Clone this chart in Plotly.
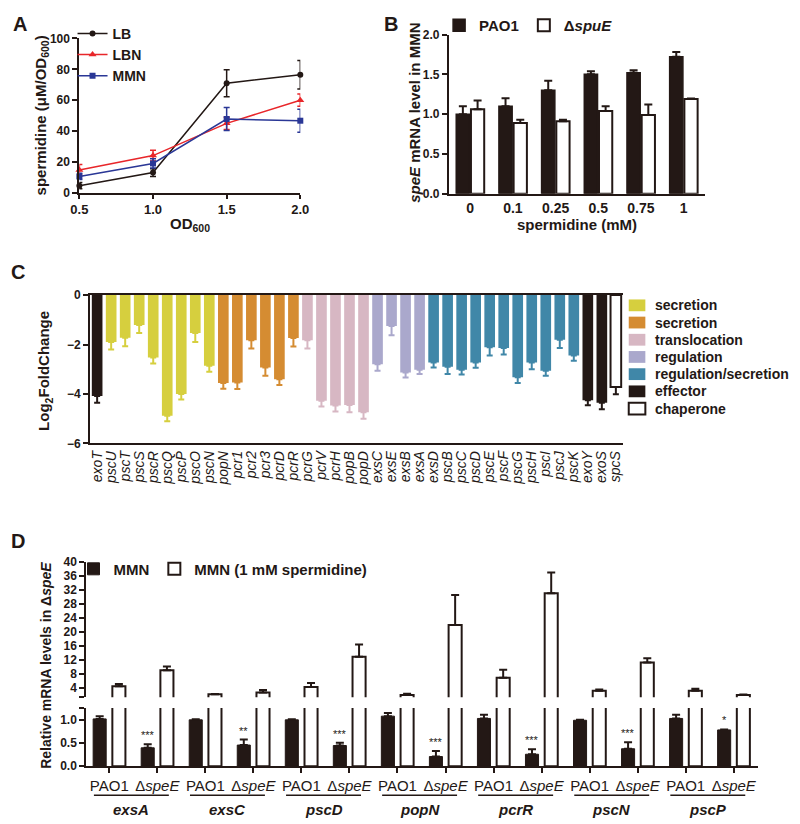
import plotly.graph_objects as go

W, H = 800, 824
FONT = "Arial, 'Liberation Sans', sans-serif"
BLACK = "#231815"

# ---------------- Panel A data ----------------
od600 = [0.5, 1.0, 1.5, 2.0]
lb_vals = [4.6, 13.1, 71.0, 76.5]
lb_err = [2.0, 2.5, 8.7, 9.2]
lbn_vals = [14.8, 24.1, 45.0, 60.0]
lbn_err = [3.5, 3.5, 4.0, 4.0]
mmn_vals = [10.6, 19.0, 47.8, 46.7]
mmn_err = [2.0, 3.0, 7.5, 7.5]

# ---------------- Panel B data ----------------
spd_conc = ["0", "0.1", "0.25", "0.5", "0.75", "1"]
pao1_b = [1.00, 1.10, 1.30, 1.50, 1.52, 1.72]
pao1_b_err = [0.10, 0.10, 0.12, 0.04, 0.03, 0.06]
spue_b = [1.06, 0.89, 0.91, 1.04, 0.99, 1.19]
spue_b_err = [0.11, 0.04, 0.02, 0.06, 0.13, 0.005]

# ---------------- Panel C data ----------------
genes_c = ["exoT", "pscU", "pscT", "pscS", "pscR", "pscQ", "pscP", "pscO", "pscN",
           "popN", "pcr1", "pcr2", "pcr3", "pcrD", "pcrR",
           "pcrG", "pcrV", "pcrH", "popB", "popD",
           "exsC", "exsE", "exsB", "exsA",
           "exsD", "pscB", "pscC", "pscD", "pscE", "pscF", "pscG", "pscH", "pscI", "pscJ", "pscK",
           "exoY", "exoS", "spcS"]
log2fc = [-4.08, -1.90, -1.73, -1.21, -2.53, -4.88, -4.00, -1.54, -2.86,
          -3.56, -3.54, -1.83, -2.93, -3.40, -1.74,
          -1.83, -4.27, -4.47, -4.45, -4.74,
          -2.80, -1.25, -3.13, -3.02,
          -2.73, -2.90, -3.02, -2.73, -2.11, -2.14, -3.32, -2.73, -3.06, -1.81, -2.44,
          -4.25, -4.35, -3.72]
log2fc_err = [0.27, 0.30, 0.34, 0.33, 0.24, 0.22, 0.22, 0.36, 0.24,
              0.23, 0.26, 0.33, 0.33, 0.24, 0.34,
              0.33, 0.24, 0.24, 0.29, 0.26,
              0.26, 0.38, 0.20, 0.17,
              0.20, 0.29, 0.19, 0.21, 0.33, 0.26, 0.24, 0.27, 0.20, 0.33, 0.22,
              0.21, 0.27, 0.29]
gene_class = [5, 0, 0, 0, 0, 0, 0, 0, 0,
              1, 1, 1, 1, 1, 1,
              2, 2, 2, 2, 2,
              3, 3, 3, 3,
              4, 4, 4, 4, 4, 4, 4, 4, 4, 4, 4,
              5, 5, 6]
class_names = ["secretion", "secretion", "translocation", "regulation",
               "regulation/secretion", "effector", "chaperone"]
class_colors = ["#D6CF3E", "#D58C32", "#D7B7C3", "#AAA8CC", "#4087A8", BLACK, "#FFFFFF"]

# ---------------- Panel D data ----------------
genes_d = ["exsA", "exsC", "pscD", "popN", "pcrR", "pscN", "pscP"]
strains_d = ["PAO1", "Δ<i>speE</i>"]
pao1_mmn = [1.03, 1.01, 1.01, 1.09, 1.04, 1.00, 1.04]
pao1_mmn_err = [0.06, 0.01, 0.01, 0.07, 0.08, 0.01, 0.08]
pao1_spd = [4.47, 2.2, 4.3, 2.0, 6.9, 3.16, 3.16]
pao1_spd_err = [0.65, 0.1, 1.1, 0.35, 2.3, 0.4, 0.6]
spee_mmn = [0.40, 0.46, 0.45, 0.21, 0.26, 0.38, 0.79]
spee_mmn_err = [0.08, 0.12, 0.06, 0.12, 0.11, 0.14, 0.01]
spee_spd = [9.06, 2.7, 12.9, 22.0, 31.1, 11.3, 2.0]
spee_spd_err = [1.1, 0.7, 3.5, 8.6, 5.9, 1.2, 0.1]
signif = ["***", "**", "***", "***", "***", "***", "*"]

# layout helpers (pixel -> paper)
def px(x):
    return x / W

def py(y):
    return 1 - y / H

fig = go.Figure()

# ---------------- Panel A ----------------
for name, vals, err, col, sym, msize in [
    ("LB", lb_vals, lb_err, BLACK, "circle", 6),
    ("LBN", lbn_vals, lbn_err, "#E8262A", "triangle-up", 7),
    ("MMN", mmn_vals, mmn_err, "#2A3796", "square", 6),
]:
    fig.add_trace(go.Scatter(
        x=od600, y=vals, name=name, mode="lines+markers",
        line=dict(color=col, width=1.5),
        marker=dict(color=col, symbol=sym, size=msize),
        error_y=dict(type="data", array=err, color=col, thickness=1.5, width=3),
        cliponaxis=False, xaxis="x", yaxis="y", legend="legend"))

# ---------------- Panel B ----------------
fig.add_trace(go.Bar(
    x=spd_conc, y=pao1_b, name="PAO1",
    marker=dict(color=BLACK, line=dict(color=BLACK, width=1.5)),
    error_y=dict(type="data", array=pao1_b_err, arrayminus=[0] * len(pao1_b),
                 symmetric=False, color=BLACK, thickness=2, width=4),
    xaxis="x2", yaxis="y2", legend="legend2"))
fig.add_trace(go.Bar(
    x=spd_conc, y=spue_b, name="Δ<i>spuE</i>",
    marker=dict(color="white", line=dict(color=BLACK, width=2)),
    error_y=dict(type="data", array=spue_b_err, arrayminus=[0] * len(spue_b),
                 symmetric=False, color=BLACK, thickness=2, width=4),
    xaxis="x2", yaxis="y2", legend="legend2"))

# ---------------- Panel C ----------------
for ci, (cname, ccol) in enumerate(zip(class_names, class_colors)):
    idx = [i for i, c in enumerate(gene_class) if c == ci]
    is_white = ccol.upper() == "#FFFFFF"
    fig.add_trace(go.Bar(
        x=[genes_c[i] for i in idx], y=[log2fc[i] for i in idx], name=cname,
        width=0.76, offset=-0.38, showlegend=False,
        marker=dict(color=ccol, line=dict(color=BLACK if is_white else ccol, width=2 if is_white else 0)),
        error_y=dict(type="data", array=[0] * len(idx), arrayminus=[log2fc_err[i] for i in idx],
                     symmetric=False, color=BLACK if is_white else ccol, thickness=2, width=3),
        xaxis="x3", yaxis="y3"))

# ---------------- Panel D ----------------
G, S, C = 5.0, 2.5, 1.0
ng = len(genes_d)
x_pao1_mmn = [g * G for g in range(ng)]
x_pao1_spd = [g * G + C for g in range(ng)]
x_spee_mmn = [g * G + S for g in range(ng)]
x_spee_spd = [g * G + S + C for g in range(ng)]
xs_black = x_pao1_mmn + x_spee_mmn
ys_black = pao1_mmn + spee_mmn
es_black = pao1_mmn_err + spee_mmn_err
xs_white = x_pao1_spd + x_spee_spd
ys_white = pao1_spd + spee_spd
es_white = pao1_spd_err + spee_spd_err

for yax, show in [("y4", True), ("y5", False)]:
    if yax == "y4":
        fig.add_trace(go.Bar(
            x=xs_black, y=ys_black, name="MMN", width=0.68, offset=-0.34,
            marker=dict(color=BLACK, line=dict(color=BLACK, width=1)),
            error_y=dict(type="data", array=es_black, arrayminus=[0] * len(es_black),
                         symmetric=False, color=BLACK, thickness=2, width=4),
            xaxis="x4", yaxis=yax, legend="legend4", showlegend=show))
    fig.add_trace(go.Bar(
        x=xs_white, y=ys_white, name="MMN (1 mM spermidine)", width=0.68, offset=-0.34,
        marker=dict(color="white", line=dict(color=BLACK, width=2)),
        error_y=dict(type="data", array=es_white, arrayminus=[0] * len(es_white),
                     symmetric=False, color=BLACK, thickness=2, width=4),
        xaxis="x4", yaxis=yax, legend="legend4", showlegend=show))

# ---------------- Axes ----------------
base_ax = dict(showline=True, linecolor=BLACK, linewidth=2, ticks="outside", ticklen=5,
               tickwidth=2, tickcolor=BLACK, showgrid=False, zeroline=False,
               tickfont=dict(family=FONT, size=12, color=BLACK, weight="bold"))

lowD_top = 1.27
upD_bot = 1.3
d_up_ticks = list(range(4, 41, 4))
tick_d = []
tick_d_text = []
for g in range(ng):
    tick_d += [g * G + C / 2, g * G + S + C / 2]
    tick_d_text += strains_d

fig.update_layout(
    width=W, height=H, margin=dict(l=0, r=0, t=0, b=0),
    paper_bgcolor="white", plot_bgcolor="white",
    font=dict(family=FONT, color=BLACK),
    barmode="group", bargap=0.31, bargroupgap=0.1,
    xaxis=dict(base_ax, domain=[px(72), px(298)], range=[0.5, 2.0], anchor="y", ticklen=4,
               tickvals=od600, tickformat=".1f", tickfont=dict(family=FONT, size=13, color=BLACK, weight="bold")),
    yaxis=dict(base_ax, domain=[py(189), py(32)], range=[0, 100], anchor="x", dtick=20),
    xaxis2=dict(base_ax, domain=[px(450), px(712)], anchor="y2", ticks="",
                tickfont=dict(family=FONT, size=14, color=BLACK, weight="bold")),
    yaxis2=dict(base_ax, domain=[py(190), py(28)], range=[0, 2.0], anchor="x2", dtick=0.5, tickformat=".1f"),
    xaxis3=dict(base_ax, domain=[px(83), px(628)], anchor="y3", ticks="", mirror=True,
                categoryorder="array", categoryarray=genes_c, tickangle=-90,
                tickmode="array", tickvals=genes_c, ticktext=genes_c,
                tickfont=dict(family=FONT, size=14, color=BLACK, style="italic")),
    yaxis3=dict(base_ax, domain=[py(444), py(293)], range=[-6, 0], anchor="x3", dtick=2),
    xaxis4=dict(base_ax, domain=[px(79), px(766)], anchor="y4", range=[-0.7, 34.25],
                tickvals=tick_d, ticktext=tick_d_text,
                tickfont=dict(family=FONT, size=15, color=BLACK)),
    yaxis4=dict(base_ax, domain=[py(772.3), py(713)], range=[0, lowD_top], anchor="x4",
                tickvals=[0, 0.5, 1.0, lowD_top], ticktext=["0.0", "0.5", "1.0", ""]),
    yaxis5=dict(base_ax, domain=[py(702.3), py(564.7)], range=[upD_bot, 40], anchor="x4",
                tickvals=[upD_bot] + d_up_ticks, ticktext=[""] + [str(t) for t in d_up_ticks]),
    legend=dict(x=px(65), y=py(11), xanchor="left", yanchor="top", bgcolor="rgba(0,0,0,0)",
                font=dict(family=FONT, size=14, color=BLACK, weight="bold"), tracegroupgap=0),
    legend2=dict(x=px(440), y=py(2), xanchor="left", yanchor="top", orientation="h",
                 bgcolor="rgba(0,0,0,0)", font=dict(family=FONT, size=15, color=BLACK, weight="bold")),
    legend4=dict(x=px(66), y=py(555), xanchor="left", yanchor="top", orientation="h",
                 bgcolor="rgba(0,0,0,0)", font=dict(family=FONT, size=15, color=BLACK, weight="bold")),
)

ann = []
shapes = []
def label(text, x, y, size=15, angle=0, weight="bold", style="normal", xanchor="center", yanchor="middle", color=BLACK):
    ann.append(dict(text=text, x=x, y=y, xref="paper", yref="paper", showarrow=False,
                    textangle=angle, xanchor=xanchor, yanchor=yanchor,
                    font=dict(family=FONT, size=size, color=color, weight=weight, style=style)))

# panel letters
label("A", px(2), py(4), size=20, xanchor="left", yanchor="top")
label("B", px(382), py(4), size=20, xanchor="left", yanchor="top")
label("C", px(0), py(256), size=20, xanchor="left", yanchor="top")
label("D", px(0), py(530), size=20, xanchor="left", yanchor="top")
# axis titles
label("spermidine (μM/OD<sub>600</sub>)", px(33), py(110), size=15, angle=-90)
label("OD<sub>600</sub>", px(185), py(221), size=15)
label("<i>speE</i> mRNA level in MMN", px(415), py(108), size=15, angle=-90)
label("spermidine (mM)", px(581), py(221), size=15)
label("Log<sub>2</sub>FoldChange", px(37), py(370), size=15, angle=-90)
label("Relative mRNA levels in Δ<i>speE</i>", px(37), py(670), size=14, angle=-90)

# panel C legend (swatches + labels)
for ci, (cname, ccol) in enumerate(zip(class_names, class_colors)):
    yc = 303.5 + ci * 17.5
    is_white = ccol.upper() == "#FFFFFF"
    shapes.append(dict(type="rect", xref="paper", yref="paper",
                       x0=px(634), x1=px(651), y0=py(yc + 6), y1=py(yc - 6),
                       fillcolor=ccol, line=dict(color=BLACK if is_white else ccol, width=2 if is_white else 0)))
    label(cname, px(659), py(yc), size=14, xanchor="left")

# gene group labels and underlines in D
for g, gname in enumerate(genes_d):
    x0 = g * G - 0.3
    x1 = g * G + S + C + 0.1
    shapes.append(dict(type="line", xref="x4", yref="paper", x0=x0, x1=x1, y0=py(802), y1=py(802),
                       line=dict(color=BLACK, width=1.5)))
    ann.append(dict(text=gname, x=(x0 + x1) / 2, y=py(816), xref="x4", yref="paper", showarrow=False,
                    xanchor="center", yanchor="middle",
                    font=dict(family=FONT, size=15, color=BLACK, weight="bold", style="italic")))
    ann.append(dict(text=signif[g], x=x_spee_mmn[g], y=spee_mmn[g] + spee_mmn_err[g], xref="x4", yref="y4",
                    showarrow=False, xanchor="center", yanchor="bottom", yshift=1,
                    font=dict(family=FONT, size=11, color=BLACK)))

fig.update_layout(annotations=ann, shapes=shapes)
fig.write_html("out.html", config={"displayModeBar": False},
               post_script="document.body.style.margin='0';")
